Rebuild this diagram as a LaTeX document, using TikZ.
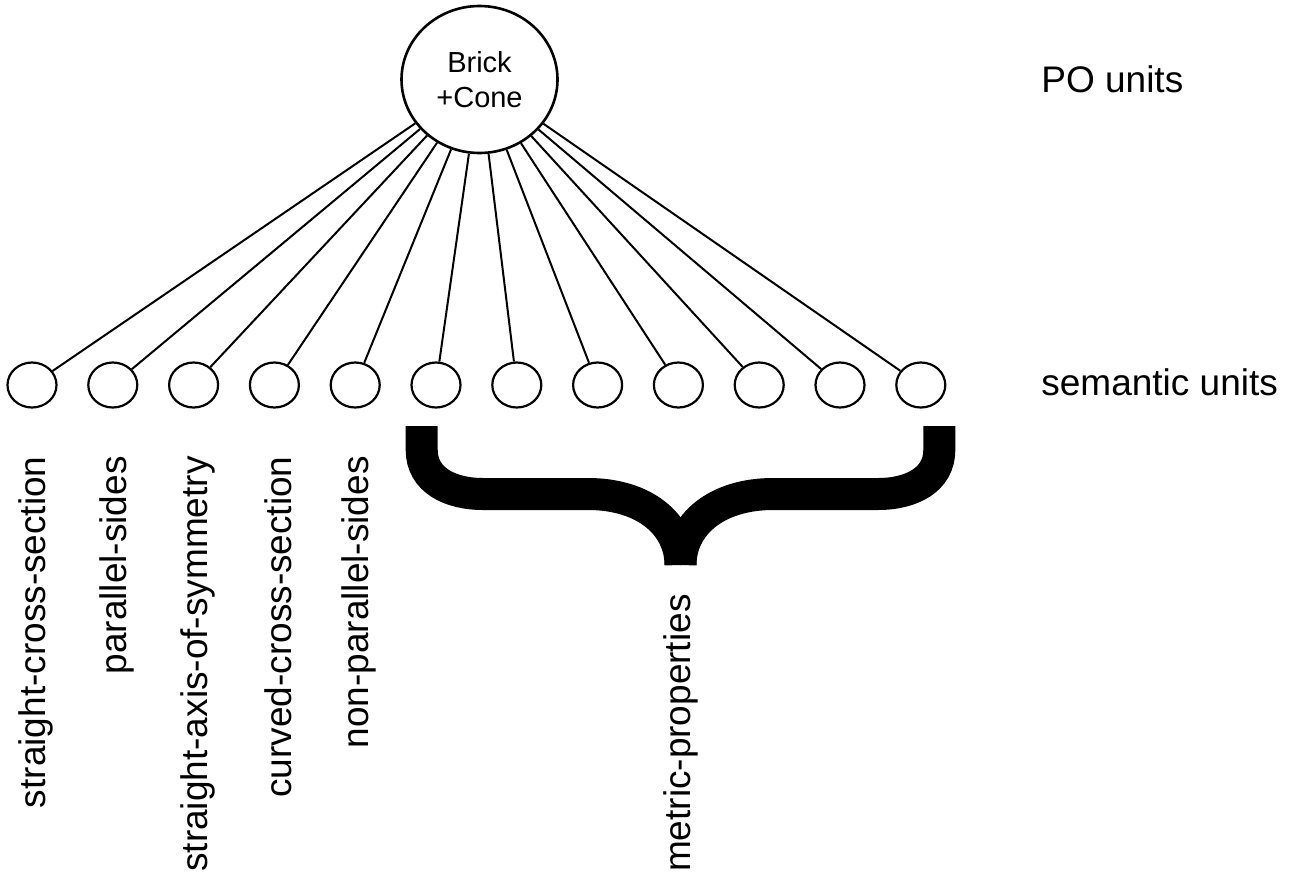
\documentclass[tikz,border=0pt]{standalone}
\usepackage{fontspec}
\setmainfont{Liberation Sans}
\usetikzlibrary{shapes.geometric}

\begin{document}
\begin{tikzpicture}[x=0.5pt,y=-0.5pt,
  pounit/.style={draw,ellipse,line width=1.3pt,minimum width=78pt,minimum height=73.5pt,inner sep=0pt,align=center,font=\fontsize{14.5}{17.5}\selectfont},
  semunit/.style={draw,ellipse,line width=1.1pt,minimum width=24.5pt,minimum height=22.5pt,inner sep=0pt},
  prop/.style={rotate=90,anchor=east,inner sep=0pt,font=\fontsize{18.5}{22}\selectfont},
  tag/.style={anchor=base west,inner sep=0pt,font=\fontsize{18.5}{22}\selectfont},
  link/.style={line width=1pt},
  bracestroke/.style={line width=16pt}]
\useasboundingbox (0,0) rectangle (1299,883);
\node[pounit] (po) at (479.5,79.5) {Brick\\+Cone};
\foreach \i in {1,...,12}
  \node[semunit] (s\i) at ({32+80.8*(\i-1)},385) {};
\foreach \i in {1,...,12}
  \draw[link] (po) -- (s\i);

\node[tag] (pou) at (1041,93) {PO units};
\node[tag] (semu) at (1041,395) {semantic units};

\foreach \i/\t in {1/straight-cross-section,2/parallel-sides,3/straight-axis-of-symmetry,4/curved-cross-section,5/non-parallel-sides}
  \node[prop] (p\i) at ({36+80.8*(\i-1)},456) {\t};

\coordinate (tip) at (680.5,565);
\draw[bracestroke] (421.7,426) -- (421.7,450) .. controls (421.7,480) and (450,494) .. (483,494) -- (588,494) .. controls (645,494) and (680.5,525) .. (tip);
\draw[bracestroke] (939.3,426) -- (939.3,450) .. controls (939.3,480) and (911,494) .. (878,494) -- (773,494) .. controls (716,494) and (680.5,525) .. (tip);
\node[prop] (metric) at (681,594) {metric-properties};
\end{tikzpicture}
\end{document}
